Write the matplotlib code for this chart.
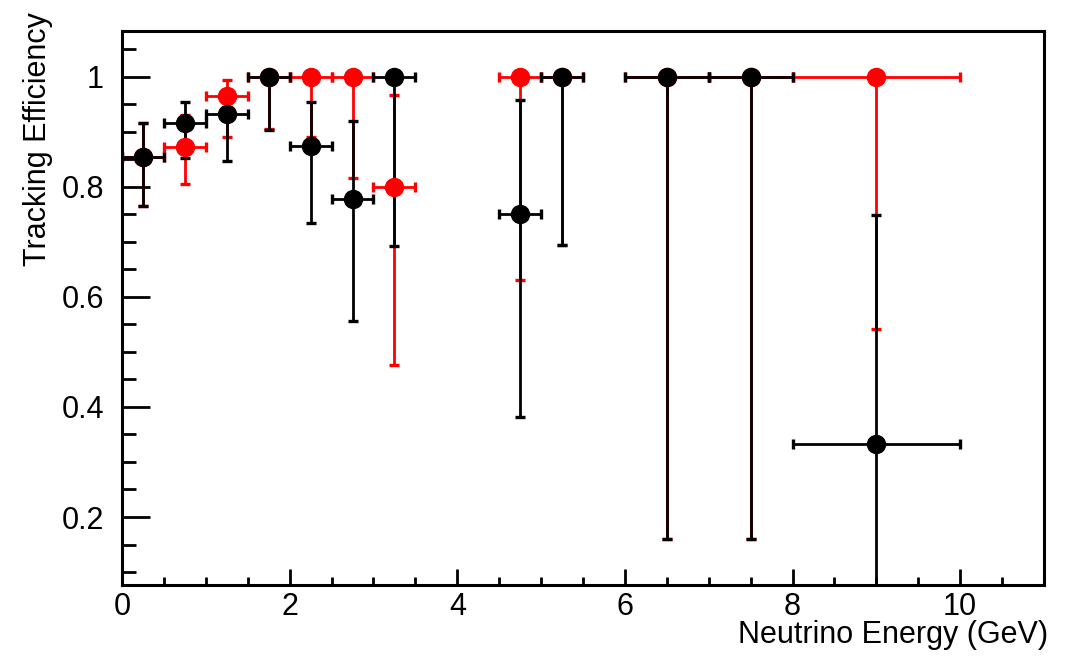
import numpy as np
import matplotlib
matplotlib.use("Agg")
import matplotlib.pyplot as plt
from matplotlib.ticker import MultipleLocator, FuncFormatter

plt.rcParams['font.family'] = ['Liberation Sans', 'DejaVu Sans']

# bins (centre, half width)
x_centre = [0.25, 0.75, 1.25, 1.75, 2.25, 2.75, 3.25, 4.75, 5.25, 6.5, 7.5, 9.0]
x_half = [0.25, 0.25, 0.25, 0.25, 0.25, 0.25, 0.25, 0.25, 0.25, 0.5, 0.5, 1.0]

# red series: efficiency, lower bound, upper bound
red_eff = [0.855, 0.872, 0.965, 1.0, 1.0, 1.0, 0.80, 1.0, 1.0, 1.0, 1.0, 1.0]
red_low = [0.766, 0.805, 0.890, 0.905, 0.890, 0.816, 0.476, 0.631, 0.694, 0.160, 0.160, 0.542]
red_high = [0.917, 0.930, 0.995, 1.0, 1.0, 1.0, 0.967, 1.0, 1.0, 1.0, 1.0, 1.0]

# black series
blk_eff = [0.855, 0.917, 0.932, 1.0, 0.875, 0.778, 1.0, 0.75, 1.0, 1.0, 1.0, 0.333]
blk_low = [0.766, 0.853, 0.848, 0.904, 0.734, 0.557, 0.693, 0.382, 0.694, 0.160, 0.160, 0.0]
blk_high = [0.917, 0.955, 0.976, 1.0, 0.955, 0.920, 1.0, 0.958, 1.0, 1.0, 1.0, 0.749]

fig = plt.figure(figsize=(10.69, 6.57), dpi=100)
ax = fig.add_axes([122 / 1069, 1 - 585 / 657, (1044 - 122) / 1069, (585 - 30.7) / 657])


def draw(eff, low, high, color):
    eff = np.array(eff)
    yerr = [eff - np.array(low), np.array(high) - eff]
    ax.errorbar(x_centre, eff, xerr=x_half, yerr=yerr, fmt='o', color=color,
                markersize=13, elinewidth=2.0, capsize=3.5, capthick=2.4)


draw(red_eff, red_low, red_high, '#ff0000')
draw(blk_eff, blk_low, blk_high, 'black')

ax.set_xlim(0, 11)
ax.set_ylim(0.0764, 1.084)

ax.xaxis.set_major_locator(MultipleLocator(2))
ax.xaxis.set_minor_locator(MultipleLocator(0.5))
ax.yaxis.set_major_locator(MultipleLocator(0.2))
ax.yaxis.set_minor_locator(MultipleLocator(0.05))
ax.yaxis.set_major_formatter(FuncFormatter(lambda v, p: f"{v:g}"))

ax.tick_params(axis='both', which='both', direction='in', width=2,
               labelsize=22, top=False, right=False)
ax.tick_params(axis='y', which='major', length=20, pad=13)
ax.tick_params(axis='y', which='minor', length=10)
ax.tick_params(axis='x', which='major', length=11.5, pad=5)
ax.tick_params(axis='x', which='minor', length=5.5)
for s in ax.spines.values():
    s.set_linewidth(2.2)

fig.text(1048 / 1069, 1 - 635 / 657, "Neutrino Energy (GeV)", ha='right',
         va='center', fontsize=22)
fig.text(38 / 1069, 1 - 12 / 657, "Tracking Efficiency", ha='center',
         va='top', rotation=90, fontsize=22)

fig.savefig("out.png", dpi=100)
